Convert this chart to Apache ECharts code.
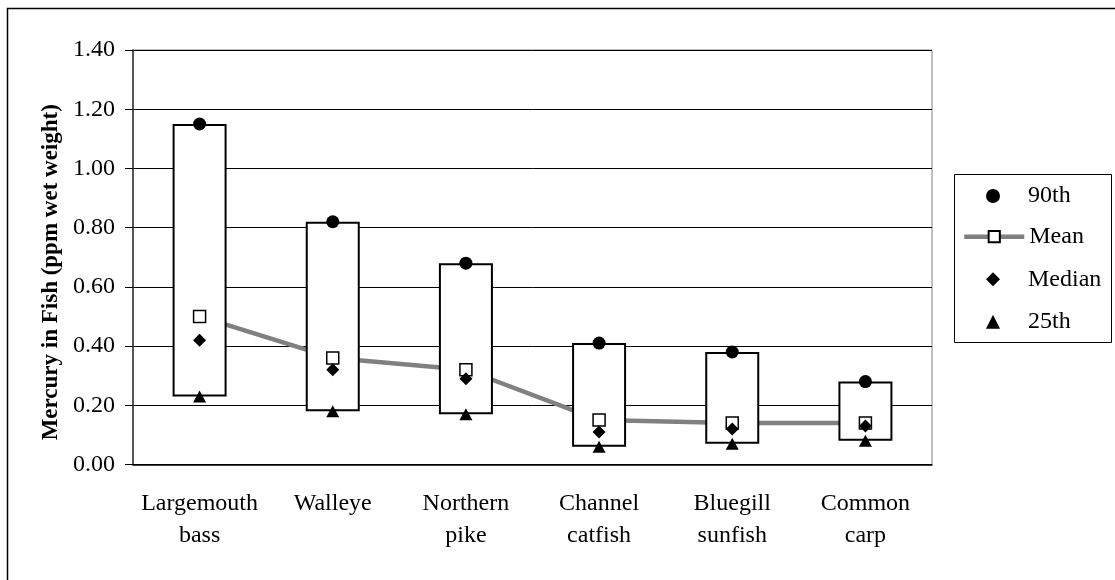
<!DOCTYPE html>
<html>
<head>
<meta charset="utf-8">
<script src="https://cdn.jsdelivr.net/npm/echarts@6/dist/echarts.min.js"></script>
<style>
  html, body { margin: 0; padding: 0; background: #fff; overflow: hidden; }
  #chart { width: 1115px; height: 580px; }
</style>
</head>
<body>
<div id="chart"></div>
<script>
  // fish species and mercury statistics (ppm wet weight)
  var categories = ['Largemouth\nbass', 'Walleye', 'Northern\npike', 'Channel\ncatfish', 'Bluegill\nsunfish', 'Common\ncarp'];
  var p90 = [1.15, 0.82, 0.68, 0.41, 0.38, 0.28];
  var meanVals = [0.50, 0.36, 0.32, 0.15, 0.14, 0.14];
  var medianVals = [0.42, 0.32, 0.29, 0.11, 0.12, 0.13];
  var p25 = [0.23, 0.18, 0.17, 0.06, 0.07, 0.08];
  var yTicks = { min: 0, max: 1.4, step: 0.2 };

  var font = "'Times New Roman', 'Liberation Serif', serif";

  // box height = 90th - 25th
  var boxSpan = p90.map(function (v, i) { return +(v - p25[i]).toFixed(2); });

  // one legend per row so marker icons keep their shape
  var legendText = { fontFamily: font, fontSize: 24, color: '#000' };
  function markerLegend(names, top) {
    return {
      data: names, orient: 'vertical', left: 986, top: top, padding: 0,
      itemWidth: 14, itemHeight: 14, itemGap: 18.5,
      textStyle: Object.assign({ padding: [0, 0, 0, 23] }, legendText)
    };
  }

  var myChart = echarts.init(document.getElementById('chart'));

  var option = {
    animation: false,
    backgroundColor: '#fff',
    textStyle: { fontFamily: font, color: '#000' },
    graphic: [{
      type: 'rect',
      z: -10,
      shape: { x: 7.5, y: 8.5, width: 1200, height: 700 },
      style: { fill: 'none', stroke: '#000', lineWidth: 1.5 }
    }, {
      // legend frame
      type: 'rect',
      z: 10,
      shape: { x: 954.5, y: 174.5, width: 157, height: 168 },
      style: { fill: 'none', stroke: '#000', lineWidth: 1 }
    }],
    grid: {
      left: 133, right: 183, top: 50, bottom: 115.5,
      show: true, borderColor: '#808080', borderWidth: 1
    },
    legend: [
      markerLegend(['90th'], 184),
      {
        data: ['Mean'], orient: 'vertical', left: 962, top: 224.7, padding: 0,
        itemWidth: 60, itemHeight: 14,
        lineStyle: { width: 4.5, color: '#808080' },
        textStyle: legendText
      },
      markerLegend(['Median', '25th'], 267.3)
    ],
    xAxis: [{
      type: 'category',
      data: categories,
      axisLine: { lineStyle: { color: '#000', width: 1.5 } },
      axisTick: { length: 9, lineStyle: { color: '#000' } },
      axisLabel: { fontFamily: font, fontSize: 24, lineHeight: 32, color: '#000', margin: 23, interval: 0 }
    }, {
      // upper half of the cross ticks
      type: 'category',
      data: categories,
      position: 'top',
      offset: -414.5,
      axisLine: { show: false },
      axisTick: { length: 7, lineStyle: { color: '#000' } },
      axisLabel: { show: false }
    }],
    yAxis: {
      type: 'value',
      min: yTicks.min, max: yTicks.max, interval: yTicks.step,
      name: 'Mercury in Fish (ppm wet weight)',
      nameLocation: 'middle',
      nameGap: 70,
      nameTextStyle: { fontFamily: font, fontSize: 23, fontWeight: 'bold', color: '#000', padding: [0, 30, 0, 0] },
      axisLine: { show: true, lineStyle: { color: '#333', width: 1.5 } },
      axisTick: { show: true, length: 8, lineStyle: { color: '#000' } },
      axisLabel: {
        fontFamily: font, fontSize: 24, color: '#000', margin: 18,
        formatter: function (v) { return v.toFixed(2); }
      },
      splitLine: { lineStyle: { color: '#000', width: 1 } }
    },
    series: [
      {
        name: 'Mean',
        type: 'line',
        z: 1,
        data: meanVals,
        symbol: 'rect', symbolSize: 12,
        itemStyle: { color: '#fff', borderColor: '#000', borderWidth: 1.5 },
        lineStyle: { color: '#808080', width: 4.5 }
      },
      {
        name: 'base',
        type: 'bar',
        stack: 'box',
        z: 2,
        silent: true,
        barWidth: 54,
        itemStyle: { color: 'transparent' },
        data: p25
      },
      {
        name: 'box',
        type: 'bar',
        stack: 'box',
        z: 2,
        barWidth: 54,
        itemStyle: { color: '#fff', borderColor: '#000', borderWidth: 2 },
        data: boxSpan
      },
      {
        name: '90th',
        type: 'scatter',
        z: 3,
        symbol: 'circle', symbolSize: 13,
        itemStyle: { color: '#000', opacity: 1 },
        data: p90
      },
      {
        name: 'Mean markers',
        type: 'scatter',
        z: 3,
        symbol: 'rect', symbolSize: 12,
        itemStyle: { color: '#fff', borderColor: '#000', borderWidth: 1.5, opacity: 1 },
        data: meanVals
      },
      {
        name: 'Median',
        type: 'scatter',
        z: 3,
        symbol: 'diamond', symbolSize: [13, 13],
        itemStyle: { color: '#000', opacity: 1 },
        data: medianVals
      },
      {
        name: '25th',
        type: 'scatter',
        z: 3,
        symbol: 'triangle', symbolSize: [13, 12],
        itemStyle: { color: '#000', opacity: 1 },
        data: p25
      }
    ]
  };

  myChart.setOption(option);
  window.onresize = () => myChart.resize();
</script>
</body>
</html>
